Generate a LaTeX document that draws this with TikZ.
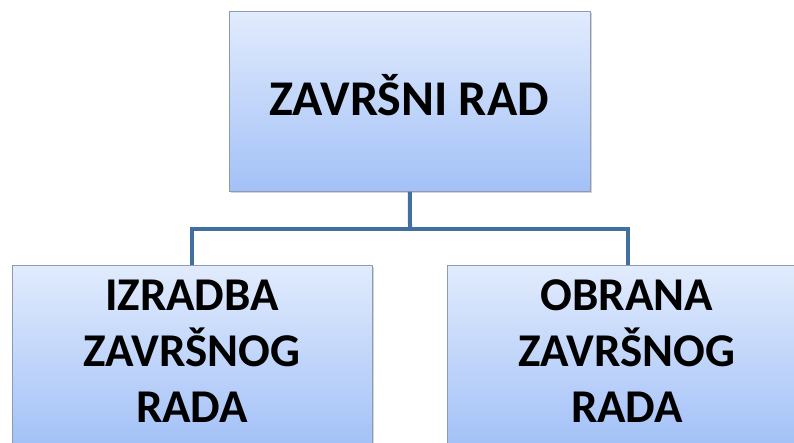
\documentclass[tikz,border=0pt]{standalone}
\usepackage{fontspec}
\setmainfont{Carlito}
\usetikzlibrary{shadows}
\definecolor{boxtop}{HTML}{E1EBFD}
\definecolor{boxbot}{HTML}{A3C1F7}
\definecolor{boxedge}{HTML}{8C9BB0}
\definecolor{linkc}{HTML}{41709F}
\tikzset{
  box/.style={draw=boxedge, line width=0.9pt, top color=boxtop, bottom color=boxbot,
    drop shadow={opacity=0.35, shadow xshift=1.5pt, shadow yshift=-2pt},
    anchor=north west, inner sep=0pt, align=center, font=\bfseries},
  label/.style={font=\bfseries\fontsize{47}{56}\selectfont, align=center, anchor=north},
  link/.style={draw=linkc, line width=4pt}
}
\begin{document}
\begin{tikzpicture}[x=1pt,y=-1pt]
\useasboundingbox (0,0) rectangle (794,442);
\clip (0,0) rectangle (794,442);
\node[box, minimum width=361pt, minimum height=180pt] (top) at (229,11) {};
\node[font=\bfseries\fontsize{50}{56}\selectfont, anchor=base] (tt) at (409,115) {ZAVRŠNI RAD};
\node[box, minimum width=360pt, minimum height=180pt] (left) at (12,265) {};
\node[box, minimum width=360pt, minimum height=180pt] (right) at (447,265) {};
\node[label] (lt) at (192,276) {IZRADBA\\ZAVRŠNOG\\RADA};
\node[label] (rt) at (627,276) {OBRANA\\ZAVRŠNOG\\RADA};
\coordinate (j) at (410,229);
\coordinate (jl) at (192,229);
\coordinate (jr) at (628,229);
\draw[link] (top.south) -- (j);
\draw[link] ([xshift=-2pt]jl) -- ([xshift=2pt]jr);
\draw[link] (jl) -- (jl |- left.north);
\draw[link] (jr) -- (jr |- right.north);
\end{tikzpicture}
\end{document}
